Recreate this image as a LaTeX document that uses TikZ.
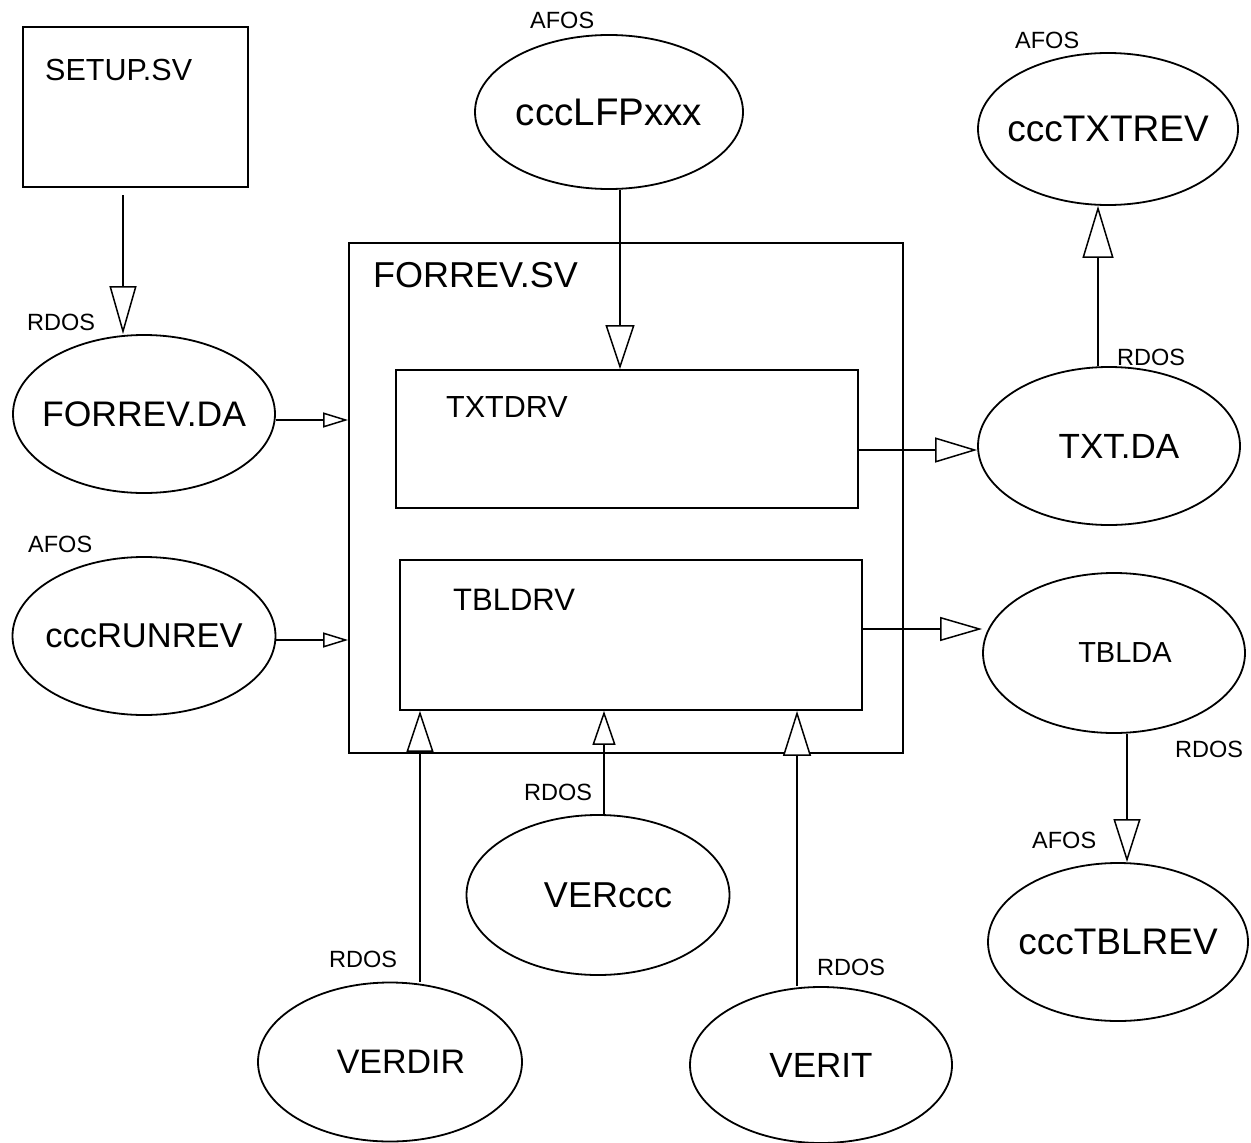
\documentclass[tikz,border=0pt]{standalone}
\usepackage{fontspec}
\setmainfont{Liberation Sans}
\usetikzlibrary{shapes.geometric,arrows.meta}
\newcommand{\ctr}[1]{\makebox[0pt]{#1}}
\tikzset{
  fsz/.style={font=\fontsize{#1}{#1}\selectfont},
  datastore/.style={ellipse, draw, line width=1.8pt, inner sep=0pt},
  procbox/.style={rectangle, draw, line width=1.8pt, inner sep=0pt},
  boxtitle/.style={inner sep=0pt, anchor=base west},
  syslabel/.style={inner sep=0pt, anchor=base west, fsz=23.5},
  flow/.style={line width=1.5pt},
  headv/.style 2 args={flow, -{Triangle[open, fill=white, length=#1pt, width=#2pt, line width=1.5pt]}},
}
\begin{document}
\begin{tikzpicture}[x=1pt,y=-1pt]
\useasboundingbox (0,0) rectangle (1251,1143);

% boxes
\node[procbox, minimum width=225pt, minimum height=160pt] (setup) at (135.5,107) {};
\node[boxtitle, fsz=30.5] (setupT) at (45,80) {SETUP.SV};

\node[procbox, minimum width=554pt, minimum height=510pt] (fsv) at (626,498) {};
\node[boxtitle, fsz=36] (fsvT) at (373,287) {FORREV.SV};

\node[procbox, minimum width=462pt, minimum height=138pt] (txtdrv) at (627,439) {};
\node[boxtitle, fsz=30.5] (txtdrvT) at (446,417) {TXTDRV};

\node[procbox, minimum width=462pt, minimum height=150pt] (tbldrv) at (631,635) {};
\node[boxtitle, fsz=31] (tbldrvT) at (453,610) {TBLDRV};

% ellipses
\node[datastore, fsz=38.5, minimum width=268pt, minimum height=154pt] (lfp) at (609,112) {\ctr{cccLFPxxx}};
\node[datastore, fsz=37, minimum width=260pt, minimum height=152pt] (txtrev) at (1108,129) {\ctr{cccTXTREV}};
\node[datastore, fsz=35.5, minimum width=262pt, minimum height=158pt] (fda) at (144,414) {\ctr{FORREV.DA}};
\node[datastore, fsz=35, minimum width=262pt, minimum height=158pt] (txtda) at (1109,446) {\ctr{\hspace*{20pt}TXT.DA}};
\node[datastore, fsz=34.5, minimum width=263pt, minimum height=158pt] (run) at (144,636) {\ctr{cccRUNREV}};
\node[datastore, fsz=29, minimum width=262pt, minimum height=160pt] (tblda) at (1114,653) {\ctr{\hspace*{22pt}TBLDA}};
\node[datastore, fsz=37, minimum width=260pt, minimum height=158pt] (tblrev) at (1118,942) {\ctr{cccTBLREV}};
\node[datastore, fsz=36, minimum width=263pt, minimum height=160pt] (verccc) at (598,895) {\ctr{\hspace*{20pt}VERccc}};
\node[datastore, fsz=34, minimum width=264pt, minimum height=159pt] (verdir) at (390,1062) {\ctr{\hspace*{22pt}VERDIR}};
\node[datastore, fsz=35, minimum width=262pt, minimum height=156pt] (verit) at (821,1065) {\ctr{VERIT}};

% system labels
\node[syslabel] (l1) at (27,330) {RDOS};
\node[syslabel] (l2) at (530,28) {AFOS};
\node[syslabel] (l3) at (1015,48) {AFOS};
\node[syslabel] (l4) at (1117,365) {RDOS};
\node[syslabel] (l5) at (28,552) {AFOS};
\node[syslabel] (l6) at (1175,757) {RDOS};
\node[syslabel] (l7) at (1032,848) {AFOS};
\node[syslabel] (l8) at (524,800) {RDOS};
\node[syslabel] (l9) at (329,967) {RDOS};
\node[syslabel] (l10) at (817,975) {RDOS};

% guide coordinates
\coordinate (a1s) at (123,195);
\coordinate (a2) at (0,420);
\coordinate (a3) at (0,640);
\coordinate (a4) at (620,0);
\coordinate (a5) at (0,450);
\coordinate (a6) at (1098,0);
\coordinate (a7) at (0,629);
\coordinate (a8) at (1127,0);
\coordinate (a9) at (420,0);
\coordinate (a10) at (604,0);
\coordinate (a11) at (797,0);

% connectors
\draw[headv={48}{27}] (a1s) -- (a1s |- fda.north);
\draw[headv={25}{15}] (a2 -| fda.east) -- (a2 -| fsv.west);
\draw[headv={25}{15}] (a3 -| run.east) -- (a3 -| fsv.west);
\draw[headv={44}{29}] (a4 |- lfp.south) -- (a4 |- txtdrv.north);
\draw[headv={42}{25}] (a5 -| txtdrv.east) -- (a5 -| txtda.west);
\draw[headv={52}{31}] (a6 |- txtda.north) -- (a6 |- txtrev.south);
\draw[headv={42}{24}] (a7 -| tbldrv.east) -- (a7 -| tblda.west);
\draw[headv={43}{27}] (a8 |- tblda.south) -- (a8 |- tblrev.north);
\draw[headv={41}{27}] (a9 |- verdir.north) -- (a9 |- tbldrv.south);
\draw[headv={34}{23}] (a10 |- verccc.north) -- (a10 |- tbldrv.south);
\draw[headv={45}{28}] (a11 |- verit.north) -- (a11 |- tbldrv.south);
\end{tikzpicture}
\end{document}
